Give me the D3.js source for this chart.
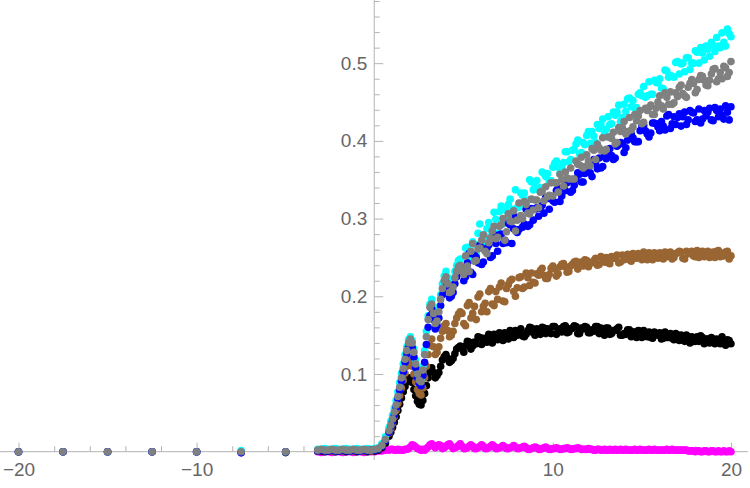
<!DOCTYPE html>
<html>
<head>
<meta charset="utf-8">
<script src="https://cdn.jsdelivr.net/npm/d3@7"></script>
<style>
  body { margin: 0; background: #fff; }
  svg { display: block; }
</style>
</head>
<body>
<div id="chart"></div>
<script>
'use strict';

// sample positions (coarse tail on the left, dense from -3.2)
const xs = [-20, -17.5, -15, -12.5, -10, -7.5, -5,
  -3.2, -3, -2.8, -2.6, -2.4, -2.2, -2, -1.8, -1.6, -1.4,
  -1.2, -1, -0.8, -0.6, -0.4, -0.2, 0, 0.2, 0.4, 0.6,
  0.8, 1, 1.2, 1.4, 1.6, 1.8, 2, 2.2, 2.4, 2.6,
  2.8, 3, 3.2, 3.4, 3.6, 3.8, 4, 4.2, 4.4, 4.6,
  4.8, 5, 5.2, 5.4, 5.6, 5.8, 6, 6.2, 6.4, 6.6,
  6.8, 7, 7.2, 7.4, 7.6, 7.8, 8, 8.2, 8.4, 8.6,
  8.8, 9, 9.2, 9.4, 9.6, 9.8, 10, 10.2, 10.4, 10.6,
  10.8, 11, 11.2, 11.4, 11.6, 11.8, 12, 12.2, 12.4, 12.6,
  12.8, 13, 13.2, 13.4, 13.6, 13.8, 14, 14.2, 14.4, 14.6,
  14.8, 15, 15.2, 15.4, 15.6, 15.8, 16, 16.2, 16.4, 16.6,
  16.8, 17, 17.2, 17.4, 17.6, 17.8, 18, 18.2, 18.4, 18.6,
  18.8, 19, 19.2, 19.4, 19.6, 19.8, 20];

// in-between samples where the curves are off zero
const xsOdd = [0.9, 1.1, 1.3, 1.5, 1.7, 1.9, 2.1, 2.3, 2.5, 2.7,
  2.9, 3.1, 3.3, 3.5, 3.7, 3.9, 4.1, 4.3, 4.5, 4.7,
  4.9, 5.1, 5.3, 5.5, 5.7, 5.9, 6.1, 6.3, 6.5, 6.7,
  6.9, 7.1, 7.3, 7.5, 7.7, 7.9, 8.1, 8.3, 8.5, 8.7,
  8.9, 9.1, 9.3, 9.5, 9.7, 9.9, 10.1, 10.3, 10.5, 10.7,
  10.9, 11.1, 11.3, 11.5, 11.7, 11.9, 12.1, 12.3, 12.5, 12.7,
  12.9, 13.1, 13.3, 13.5, 13.7, 13.9, 14.1, 14.3, 14.5, 14.7,
  14.9, 15.1, 15.3, 15.5, 15.7, 15.9, 16.1, 16.3, 16.5, 16.7,
  16.9, 17.1, 17.3, 17.5, 17.7, 17.9, 18.1, 18.3, 18.5, 18.7,
  18.9, 19.1, 19.3, 19.5, 19.7, 19.9];

const magentaVals = [0, 0, 0, 0, 0, 0, 0,
  0, -0.001, 0, 0, -0.001, 0, 0, -0.001, 0, 0,
  -0.001, 0, 0, -0.001, 0, 0, 0, 0.001, 0.001, 0.002,
  0.002, 0.003, 0.002, 0.002, 0.002, 0.003, 0.006, 0.008, 0.004, 0.002,
  0.002, 0.006, 0.01, 0.005, 0.009, 0.004, 0.007, 0.01, 0.004, 0.006,
  0.01, 0.004, 0.005, 0.009, 0.004, 0.005, 0.009, 0.004, 0.005, 0.009,
  0.004, 0.005, 0.008, 0.004, 0.005, 0.008, 0.004, 0.005, 0.007, 0.003,
  0.004, 0.006, 0.003, 0.004, 0.006, 0.003, 0.004, 0.005, 0.003, 0.004,
  0.005, 0.003, 0.004, 0.005, 0.003, 0.003, 0.004, 0.003, 0.002, 0.003,
  0.002, 0.002, 0.003, 0.002, 0.002, 0.003, 0.002, 0.002, 0.002, 0.003,
  0.002, 0.002, 0.002, 0.003, 0.002, 0.002, 0.002, 0.002, 0.003, 0.002,
  0.002, 0.002, 0.002, 0.002, 0.001, 0.001, 0, 0.001, 0, 0.001,
  0, 0.001, 0, 0, 0.001, 0, 0];
const magentaOdd = [0.003, 0.002, 0.003, 0.002, 0.003, 0.004, 0.009, 0.006, 0.003, 0.003,
  0.004, 0.009, 0.008, 0.007, 0.008, 0.005, 0.009, 0.007, 0.005, 0.008,
  0.007, 0.004, 0.007, 0.007, 0.004, 0.007, 0.007, 0.004, 0.007, 0.007,
  0.004, 0.006, 0.006, 0.004, 0.006, 0.006, 0.004, 0.006, 0.005, 0.003,
  0.005, 0.005, 0.003, 0.005, 0.004, 0.003, 0.004, 0.004, 0.003, 0.004,
  0.004, 0.003, 0.004, 0.004, 0.003, 0.003, 0.003, 0.002, 0.003, 0.002,
  0.003, 0.002, 0.002, 0.003, 0.002, 0.002, 0.003, 0.002, 0.002, 0.002,
  0.003, 0.002, 0.002, 0.002, 0.003, 0.002, 0.002, 0.002, 0.002, 0.003,
  0.002, 0.002, 0.002, 0.002, 0.001, 0.001, 0.001, 0, 0.001, 0,
  0.001, 0, 0.001, 0, 0, 0.001];

const blackVals = [0, 0, 0, 0, 0, 0, -0.0012,
  0.001, 0.001, 0, 0.001, 0.001, 0, 0.001, 0.001, 0, 0.001,
  0.001, 0, 0.001, 0.001, 0, 0.001, 0.001, 0.002, 0.005, 0.011,
  0.02, 0.031, 0.045, 0.061, 0.077, 0.09, 0.095, 0.08, 0.065, 0.06,
  0.075, 0.095, 0.108, 0.095, 0.102, 0.118, 0.125, 0.115, 0.12, 0.132,
  0.136, 0.128, 0.142, 0.132, 0.141, 0.148, 0.138, 0.142, 0.151, 0.140,
  0.150, 0.153, 0.143, 0.151, 0.156, 0.147, 0.150, 0.158, 0.148, 0.156,
  0.159, 0.150, 0.155, 0.160, 0.152, 0.155, 0.161, 0.151, 0.158, 0.161,
  0.153, 0.158, 0.162, 0.152, 0.159, 0.161, 0.153, 0.157, 0.161, 0.152,
  0.158, 0.159, 0.151, 0.156, 0.158, 0.150, 0.152, 0.157, 0.148, 0.154,
  0.156, 0.147, 0.152, 0.154, 0.146, 0.151, 0.153, 0.146, 0.147, 0.152,
  0.144, 0.150, 0.150, 0.142, 0.148, 0.148, 0.142, 0.142, 0.147, 0.145,
  0.140, 0.145, 0.145, 0.139, 0.141, 0.144, 0.139];
const blackOdd = [0.025, 0.038, 0.053, 0.069, 0.084, 0.094, 0.089, 0.072, 0.061, 0.066,
  0.085, 0.103, 0.102, 0.098, 0.11, 0.122, 0.12, 0.117, 0.126, 0.134,
  0.133, 0.136, 0.141, 0.136, 0.139, 0.147, 0.146, 0.141, 0.146, 0.151,
  0.144, 0.150, 0.153, 0.145, 0.150, 0.156, 0.155, 0.149, 0.151, 0.160,
  0.153, 0.158, 0.151, 0.159, 0.158, 0.152, 0.161, 0.156, 0.154, 0.162,
  0.154, 0.159, 0.161, 0.152, 0.158, 0.160, 0.153, 0.155, 0.161, 0.159,
  0.150, 0.159, 0.152, 0.156, 0.160, 0.150, 0.151, 0.157, 0.154, 0.147,
  0.155, 0.156, 0.148, 0.147, 0.154, 0.150, 0.145, 0.154, 0.147, 0.146,
  0.152, 0.143, 0.148, 0.150, 0.140, 0.142, 0.148, 0.149, 0.139, 0.145,
  0.147, 0.139, 0.141, 0.148, 0.137, 0.143];

const brownVals = [0, 0, 0, 0, 0, 0, 0,
  0.001, 0.002, 0.001, 0.002, 0.001, 0.001, 0.002, 0.001, 0.002, 0.001,
  0.001, 0.002, 0.001, 0.001, 0.002, 0.001, 0.002, 0.003, 0.007, 0.014,
  0.024, 0.037, 0.053, 0.072, 0.092, 0.11, 0.118, 0.1, 0.08, 0.073,
  0.095, 0.125, 0.145, 0.125, 0.135, 0.155, 0.165, 0.148, 0.155, 0.172,
  0.18, 0.165, 0.188, 0.172, 0.187, 0.199, 0.180, 0.191, 0.206, 0.190,
  0.206, 0.212, 0.194, 0.210, 0.220, 0.206, 0.211, 0.225, 0.212, 0.224,
  0.230, 0.217, 0.227, 0.236, 0.223, 0.228, 0.239, 0.226, 0.238, 0.242,
  0.231, 0.239, 0.244, 0.235, 0.244, 0.247, 0.238, 0.243, 0.249, 0.241,
  0.248, 0.250, 0.242, 0.249, 0.253, 0.244, 0.247, 0.254, 0.245, 0.253,
  0.255, 0.247, 0.252, 0.256, 0.247, 0.254, 0.256, 0.248, 0.251, 0.257,
  0.250, 0.256, 0.257, 0.248, 0.255, 0.258, 0.251, 0.250, 0.258, 0.255,
  0.250, 0.257, 0.258, 0.251, 0.252, 0.258, 0.252];
const brownOdd = [0.03, 0.045, 0.062, 0.082, 0.101, 0.116, 0.11, 0.09, 0.075, 0.082,
  0.11, 0.137, 0.135, 0.128, 0.146, 0.162, 0.156, 0.15, 0.165, 0.177,
  0.178, 0.162, 0.192, 0.178, 0.170, 0.203, 0.187, 0.180, 0.210, 0.188,
  0.196, 0.217, 0.193, 0.215, 0.222, 0.200, 0.224, 0.210, 0.230, 0.214,
  0.218, 0.229, 0.233, 0.227, 0.223, 0.236, 0.235, 0.229, 0.241, 0.238,
  0.232, 0.241, 0.245, 0.239, 0.239, 0.246, 0.243, 0.246, 0.240, 0.251,
  0.244, 0.243, 0.251, 0.249, 0.243, 0.253, 0.252, 0.247, 0.255, 0.249,
  0.250, 0.257, 0.247, 0.252, 0.256, 0.249, 0.250, 0.257, 0.256, 0.248,
  0.255, 0.258, 0.249, 0.258, 0.255, 0.252, 0.259, 0.255, 0.251, 0.258,
  0.252, 0.250, 0.259, 0.255, 0.257, 0.248];

const cyanVals = [0, 0, 0, 0, 0, 0.0015, 0,
  0.003, 0.003, 0.004, 0.003, 0.003, 0.004, 0.003, 0.003, 0.004, 0.003,
  0.003, 0.004, 0.003, 0.003, 0.004, 0.003, 0.004, 0.005, 0.01, 0.019,
  0.031, 0.047, 0.066, 0.089, 0.113, 0.135, 0.148, 0.132, 0.105, 0.094,
  0.13, 0.175, 0.196, 0.172, 0.186, 0.216, 0.232, 0.212, 0.22, 0.24,
  0.248, 0.236, 0.263, 0.250, 0.267, 0.281, 0.268, 0.277, 0.295, 0.281,
  0.299, 0.309, 0.293, 0.310, 0.325, 0.312, 0.314, 0.333, 0.333, 0.324,
  0.347, 0.340, 0.337, 0.360, 0.354, 0.348, 0.366, 0.374, 0.358, 0.372,
  0.386, 0.376, 0.389, 0.401, 0.385, 0.395, 0.412, 0.412, 0.398, 0.416,
  0.428, 0.415, 0.421, 0.437, 0.437, 0.425, 0.447, 0.454, 0.444, 0.442,
  0.460, 0.458, 0.456, 0.476, 0.460, 0.475, 0.480, 0.467, 0.490, 0.484,
  0.482, 0.502, 0.499, 0.489, 0.507, 0.500, 0.516, 0.500, 0.513, 0.522,
  0.509, 0.523, 0.533, 0.520, 0.527, 0.544, 0.534];
const cyanOdd = [0.039, 0.056, 0.077, 0.101, 0.125, 0.144, 0.143, 0.118, 0.097, 0.11,
  0.155, 0.19, 0.185, 0.176, 0.202, 0.226, 0.224, 0.213, 0.232, 0.246,
  0.232, 0.262, 0.245, 0.270, 0.254, 0.293, 0.268, 0.287, 0.276, 0.308,
  0.281, 0.316, 0.298, 0.318, 0.302, 0.337, 0.315, 0.330, 0.316, 0.350,
  0.337, 0.349, 0.340, 0.358, 0.358, 0.349, 0.371, 0.366, 0.366, 0.386,
  0.373, 0.388, 0.396, 0.383, 0.398, 0.407, 0.397, 0.406, 0.421, 0.421,
  0.409, 0.431, 0.422, 0.433, 0.446, 0.430, 0.438, 0.455, 0.452, 0.443,
  0.462, 0.470, 0.458, 0.460, 0.478, 0.475, 0.468, 0.491, 0.482, 0.483,
  0.501, 0.486, 0.500, 0.507, 0.492, 0.500, 0.514, 0.520, 0.504, 0.518,
  0.527, 0.515, 0.522, 0.539, 0.522, 0.538];

const blueVals = [0, 0, 0, 0, 0, -0.0015, 0,
  0.001, 0.002, 0.001, 0.001, 0.002, 0.001, 0.001, 0.002, 0.001, 0.001,
  0.002, 0.001, 0.001, 0.002, 0.001, 0.002, 0.002, 0.003, 0.007, 0.014,
  0.025, 0.039, 0.057, 0.079, 0.103, 0.126, 0.14, 0.122, 0.095, 0.085,
  0.115, 0.16, 0.184, 0.158, 0.172, 0.202, 0.218, 0.198, 0.205, 0.225,
  0.232, 0.22, 0.243, 0.231, 0.253, 0.243, 0.241, 0.260, 0.266, 0.252,
  0.268, 0.279, 0.268, 0.269, 0.292, 0.287, 0.282, 0.301, 0.293, 0.290,
  0.313, 0.312, 0.303, 0.317, 0.327, 0.312, 0.323, 0.336, 0.322, 0.341,
  0.346, 0.334, 0.343, 0.359, 0.347, 0.358, 0.369, 0.354, 0.371, 0.378,
  0.367, 0.377, 0.390, 0.376, 0.393, 0.398, 0.385, 0.401, 0.409, 0.399,
  0.399, 0.419, 0.413, 0.405, 0.423, 0.422, 0.413, 0.419, 0.432, 0.416,
  0.431, 0.430, 0.419, 0.437, 0.427, 0.437, 0.425, 0.441, 0.428, 0.432,
  0.442, 0.426, 0.439, 0.441, 0.428, 0.437, 0.444];
const blueOdd = [0.032, 0.047, 0.068, 0.091, 0.115, 0.135, 0.134, 0.108, 0.088, 0.098,
  0.138, 0.175, 0.17, 0.162, 0.188, 0.21, 0.208, 0.2, 0.216, 0.23,
  0.237, 0.225, 0.255, 0.228, 0.250, 0.266, 0.244, 0.262, 0.250, 0.279,
  0.258, 0.280, 0.272, 0.294, 0.268, 0.302, 0.286, 0.289, 0.312, 0.292,
  0.298, 0.314, 0.313, 0.307, 0.326, 0.327, 0.321, 0.339, 0.329, 0.336,
  0.349, 0.336, 0.351, 0.357, 0.347, 0.363, 0.359, 0.376, 0.364, 0.365,
  0.380, 0.387, 0.381, 0.378, 0.395, 0.397, 0.391, 0.408, 0.404, 0.399,
  0.413, 0.420, 0.409, 0.410, 0.423, 0.418, 0.425, 0.414, 0.434, 0.422,
  0.421, 0.435, 0.431, 0.421, 0.439, 0.436, 0.427, 0.423, 0.439, 0.437,
  0.427, 0.443, 0.431, 0.433, 0.445, 0.427];

const grayVals = [0, 0, 0, 0, 0, 0, 0,
  0.002, 0.003, 0.002, 0.002, 0.003, 0.002, 0.002, 0.003, 0.002, 0.002,
  0.003, 0.002, 0.002, 0.003, 0.002, 0.002, 0.003, 0.004, 0.008, 0.016,
  0.027, 0.042, 0.06, 0.083, 0.107, 0.13, 0.145, 0.128, 0.1, 0.09,
  0.125, 0.17, 0.19, 0.165, 0.18, 0.21, 0.225, 0.205, 0.212, 0.232,
  0.24, 0.228, 0.239, 0.258, 0.245, 0.261, 0.272, 0.258, 0.269, 0.284,
  0.274, 0.290, 0.300, 0.283, 0.297, 0.310, 0.298, 0.304, 0.322, 0.307,
  0.325, 0.324, 0.314, 0.335, 0.341, 0.330, 0.329, 0.346, 0.357, 0.342,
  0.352, 0.365, 0.351, 0.370, 0.379, 0.367, 0.374, 0.390, 0.376, 0.391,
  0.404, 0.389, 0.405, 0.411, 0.398, 0.412, 0.425, 0.412, 0.414, 0.434,
  0.432, 0.422, 0.442, 0.443, 0.434, 0.442, 0.458, 0.441, 0.456, 0.463,
  0.449, 0.457, 0.472, 0.458, 0.469, 0.479, 0.462, 0.479, 0.483, 0.472,
  0.478, 0.492, 0.476, 0.488, 0.496, 0.483, 0.502];
const grayOdd = [0.034, 0.051, 0.071, 0.095, 0.119, 0.14, 0.14, 0.113, 0.092, 0.105,
  0.148, 0.186, 0.178, 0.168, 0.196, 0.22, 0.216, 0.206, 0.224, 0.238,
  0.233, 0.252, 0.232, 0.268, 0.246, 0.262, 0.279, 0.255, 0.275, 0.290,
  0.276, 0.292, 0.272, 0.306, 0.296, 0.284, 0.320, 0.300, 0.318, 0.306,
  0.311, 0.324, 0.334, 0.323, 0.328, 0.346, 0.346, 0.334, 0.350, 0.360,
  0.351, 0.351, 0.374, 0.369, 0.365, 0.382, 0.368, 0.388, 0.396, 0.388,
  0.387, 0.405, 0.403, 0.396, 0.417, 0.417, 0.409, 0.430, 0.418, 0.426,
  0.439, 0.424, 0.439, 0.446, 0.434, 0.450, 0.445, 0.462, 0.447, 0.447,
  0.462, 0.469, 0.461, 0.456, 0.474, 0.474, 0.466, 0.484, 0.478, 0.471,
  0.486, 0.493, 0.480, 0.480, 0.494, 0.488];

// drawing order: first is at the bottom
const seriesNames = ["magenta", "black", "brown", "cyan", "blue", "gray"];
const seriesColors = ["#ff00ff", "#000000", "#996633", "#00ffff", "#0000ff", "#808080"];
const seriesValues = [magentaVals, blackVals, brownVals, cyanVals, blueVals, grayVals];
const seriesOdd = [magentaOdd, blackOdd, brownOdd, cyanOdd, blueOdd, grayOdd];

const xMajor = [-20, -10, 10, 20];
const xMinor = [-18, -16, -14, -12, -8, -6, -4, -2, 2, 4, 6, 8, 12, 14, 16, 18];
const yMajor = [0.1, 0.2, 0.3, 0.4, 0.5];
const yMinor = [0.02, 0.04, 0.06, 0.08, 0.12, 0.14, 0.16, 0.18, 0.22, 0.24, 0.26, 0.28,
  0.32, 0.34, 0.36, 0.38, 0.42, 0.44, 0.46, 0.48, 0.52, 0.54, 0.56, 0.58];

const width = 750, height = 488;
const axisColor = "#b3b3b3", labelColor = "#666666";

let svg = d3.select("#chart").append("svg")
    .attr("width", width)
    .attr("height", height)
    .style("font-family", "'Liberation Sans', Arial, sans-serif");

let x = d3.scaleLinear().domain([-21.04, 21.07]).range([0, width]);
let y = d3.scaleLinear().domain([-0.0107, 0.5813]).range([460, 0]);

// x axis: ticks point up into the plot, labels below
let xAxisG = svg.append("g").attr("transform", `translate(0,${y(0)})`);
xAxisG.append("g")
    .call(d3.axisBottom(x).tickValues(xMinor).tickSize(-5.5).tickFormat(""))
    .call(g => g.select(".domain").remove());
xAxisG.append("g")
    .call(d3.axisBottom(x).tickValues(xMajor).tickSize(-9).tickPadding(11)
        .tickFormat(d3.format("d")))
    .call(g => g.select(".domain").remove());
xAxisG.append("line")
    .attr("x1", 0).attr("x2", 748);

// y axis: ticks point right, labels on the left
let yAxisG = svg.append("g").attr("transform", `translate(${x(0) - 0.5},0)`);
yAxisG.append("g")
    .call(d3.axisLeft(y).tickValues(yMinor).tickSize(-5.5).tickFormat(""))
    .call(g => g.select(".domain").remove());
yAxisG.append("g")
    .call(d3.axisLeft(y).tickValues(yMajor).tickSize(-9).tickPadding(7)
        .tickFormat(d3.format(".1f")))
    .call(g => g.select(".domain").remove());
yAxisG.append("line")
    .attr("y1", 0).attr("y2", 460);

svg.selectAll("line").attr("stroke", axisColor).attr("stroke-width", 1);
svg.selectAll(".tick text")
    .attr("fill", labelColor)
    .style("font-size", "19px")
    .style("font-family", "'Liberation Sans', Arial, sans-serif");

// points
seriesValues.forEach((vals, si) => {
    let pts = xs.map((xv, i) => ({x: xv, y: vals[i]}))
        .concat(xsOdd.map((xv, i) => ({x: xv, y: seriesOdd[si][i]})));
    svg.append("g")
        .attr("class", "series-" + seriesNames[si])
        .selectAll("circle")
        .data(pts)
        .join("circle")
            .attr("cx", d => x(d.x))
            .attr("cy", d => y(d.y))
            .attr("r", 3.8)
            .attr("fill", seriesColors[si]);
});
</script>
</body>
</html>
